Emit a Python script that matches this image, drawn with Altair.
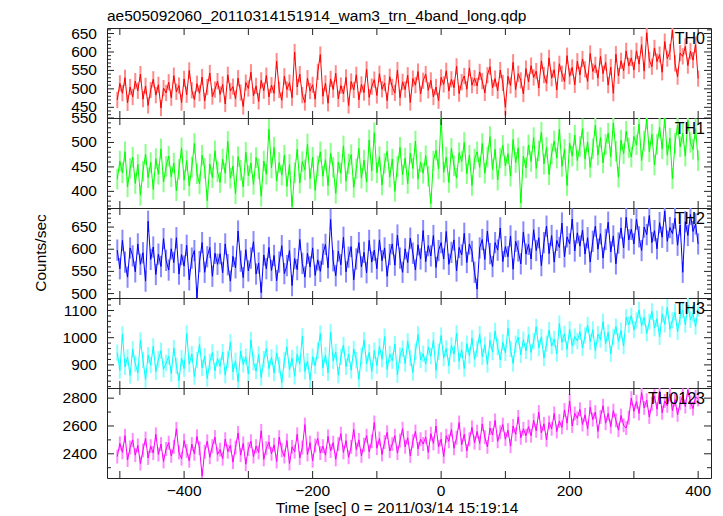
import altair as alt
import pandas as pd

# time grid (sec from 2011/03/14 15:19:14)
times = list(range(-504, 401, 4))

th0 = [470, 515, 488, 530, 462, 505, 478, 521, 495, 540, 472, 508, 455, 497, 526, 483, 511, 448, 502, 489,
       518, 476, 536, 492, 509, 463, 527, 484, 550, 496, 471, 514, 488, 532, 467, 505, 543, 479, 498, 521,
       485, 512, 459, 538, 494, 506, 473, 529, 490, 452, 517, 501, 545, 481, 508, 466, 523, 495, 536, 478,
       510, 488, 575, 497, 469, 534, 498, 517, 476, 600, 505, 540, 483, 463, 529, 494, 511, 472, 546, 593,
       480, 515, 461, 527, 498, 542, 473, 509, 486, 531, 455, 520, 497, 538, 470, 512, 490, 553, 477, 506,
       525, 482, 541, 499, 516, 468, 533, 505, 489, 551, 476, 519, 498, 537, 463, 528, 510, 547, 486, 522,
       540, 496, 523, 478, 505, 468, 531, 512, 549, 494, 526, 503, 561, 487, 518, 535, 499, 557, 510, 529,
       508, 546, 521, 489, 537, 560, 503, 528, 495, 551, 516, 450, 534, 509, 572, 498, 541, 523, 486, 555,
       519, 563, 531, 548, 502, 576, 537, 515, 584, 529, 552, 497, 568, 541, 520, 590, 534, 558, 511, 575,
       538, 581, 553, 520, 596, 547, 565, 529, 588, 541, 572, 510, 559, 488, 594, 535, 576, 549, 603, 562,
       584, 551, 603, 567, 620, 548, 652, 578, 560, 611, 574, 593, 545, 628, 582, 600, 659, 569, 533, 597,
       588, 615, 563, 602, 578, 620, 528]

th1 = [425, 462, 438, 481, 409, 447, 470, 416, 455, 392, 441, 476, 428, 459, 404, 467, 435, 487, 419, 451,
       472, 430, 458, 401, 445, 489, 423, 463, 411, 450, 498, 436, 415, 474, 447, 381, 456, 428, 483, 440,
       418, 466, 437, 502, 427, 452, 395, 471, 443, 409, 480, 432, 458, 414, 469, 446, 390, 462, 435, 527,
       448, 490, 421, 459, 433, 474, 410, 455, 369, 438, 486, 417, 461, 444, 497, 426, 470, 402, 452, 481,
       431, 465, 412, 478, 449, 396, 460, 437, 493, 421, 456, 475, 408, 446, 488, 427, 464, 419, 505, 442,
       520, 438, 471, 413, 457, 482, 429, 466, 400, 451, 490, 434, 468, 416, 478, 447, 503, 425, 460, 437,
       473, 431, 375, 462, 484, 446, 550, 439, 470, 418, 488, 452, 427, 479, 461, 500, 436, 474, 412, 466,
       481, 449, 498, 437, 470, 512, 445, 486, 423, 468, 494, 452, 477, 431, 506, 459, 489, 376, 472, 448,
       495, 461, 510, 447, 483, 521, 456, 490, 434, 477, 503, 468, 527, 451, 486, 412, 499, 472, 515, 463,
       492, 528, 466, 501, 449, 487, 535, 474, 510, 458, 496, 519, 471, 540, 482, 429, 505, 477, 523, 489,
       470, 512, 495, 538, 463, 503, 548, 481, 517, 454, 496, 531, 487, 550, 474, 509, 426, 498, 536, 491,
       519, 472, 545, 500, 486, 528, 463]

th2 = [598, 556, 620, 571, 537, 603, 585, 549, 612, 566, 592, 528, 663, 577, 605, 543, 589, 561, 624, 575,
       553, 601, 570, 626, 544, 588, 562, 609, 531, 580, 597, 490, 572, 615, 548, 583, 604, 539, 591, 566,
       590, 547, 612, 565, 528, 584, 558, 641, 573, 536, 599, 551, 580, 617, 544, 569, 502, 587, 556, 604,
       552, 586, 529, 571, 608, 545, 563, 597, 518, 579, 554, 622, 568, 537, 591, 560, 603, 541, 576, 550,
       589, 611, 558, 667, 574, 540, 596, 565, 627, 549, 582, 606, 531, 578, 615, 560, 593, 547, 620, 571,
       598, 556, 621, 574, 603, 539, 588, 612, 564, 632, 580, 548, 601, 570, 625, 591, 553, 610, 578, 642,
       572, 608, 585, 631, 559, 597, 615, 578, 640, 566, 593, 621, 551, 604, 587, 636, 570, 612, 595, 548,
       510, 603, 622, 577, 641, 590, 561, 615, 598, 648, 572, 606, 583, 630, 555, 618, 596, 567, 639, 589,
       611, 578, 644, 597, 626, 563, 615, 652, 590, 631, 571, 620, 604, 659, 583, 628, 612, 668, 596, 637,
       607, 643, 589, 626, 571, 618, 652, 600, 635, 580, 622, 661, 594, 630, 567, 614, 648, 603, 672, 621,
       645, 612, 668, 628, 597, 650, 633, 676, 615, 642, 601, 660, 627, 686, 618, 649, 635, 670, 609, 655,
       548, 662, 631, 679, 640, 657, 612]

th3 = [945, 880, 1012, 893, 928, 861, 957, 904, 871, 990, 918, 846, 936, 899, 968, 875, 921, 952, 884, 907,
       931, 868, 962, 897, 842, 925, 886, 1015, 903, 940, 857, 918, 975, 889, 932, 850, 911, 946, 878, 923,
       895, 947, 862, 920, 983, 874, 915, 838, 951, 902, 930, 866, 992, 909, 877, 938, 853, 921, 960, 886,
       928, 870, 944, 899, 835, 917, 966, 882, 925, 858, 940, 903, 1005, 876, 914, 845, 930, 897, 953, 1015,
       889, 936, 871, 1020, 915, 948, 862, 929, 973, 893, 940, 880, 958, 917, 847, 932, 991, 905, 946, 876,
       952, 897, 968, 921, 1004, 883, 940, 915, 977, 864, 934, 960, 905, 987, 926, 872, 949, 1012, 918, 941,
       903, 965, 932, 991, 880, 948, 1008, 925, 961, 897, 972, 940, 1016, 913, 955, 886, 978, 934, 999, 921,
       958, 1013, 930, 974, 902, 990, 947, 1025, 965, 918, 983, 944, 1036, 959, 905, 978, 1002, 937, 993, 951,
       1011, 946, 987, 1040, 962, 1003, 925, 978, 1028, 969, 995, 941, 1052, 983, 1015, 957, 1031, 970, 1004, 988,
       1022, 962, 1008, 1047, 985, 1030, 952, 1013, 993, 1059, 978, 1019, 941, 1003, 1041, 986, 1026, 969, 1075, 1048,
       1081, 1029, 1063, 1102, 1044, 1075, 1016, 1058, 1097, 1035, 1070, 1003, 1086, 1049, 1112, 1031, 1064, 1093, 1022, 1077,
       1101, 1048, 1120, 1066, 1089, 1041, 1108]

th0123 = [2380, 2475, 2410, 2530, 2355, 2445, 2500, 2390, 2460, 2330, 2425, 2510, 2370, 2455, 2405, 2540, 2395, 2470, 2345, 2435,
          2480, 2385, 2450, 2580, 2410, 2365, 2495, 2420, 2350, 2470, 2400, 2525, 2440, 2240, 2415, 2490, 2375, 2455, 2520, 2395,
          2430, 2365, 2505, 2415, 2460, 2340, 2445, 2550, 2390, 2475, 2325, 2435, 2490, 2380, 2455, 2410, 2565, 2360, 2440, 2485,
          2400, 2465, 2345, 2520, 2425, 2380, 2495, 2330, 2450, 2415, 2540, 2370, 2445, 2610, 2395, 2480, 2350, 2460, 2510, 2405,
          2455, 2390, 2525, 2420, 2480, 2360, 2470, 2545, 2410, 2495, 2375, 2450, 2575, 2430, 2500, 2385, 2465, 2530, 2415, 2490,
          2625, 2440, 2510, 2395, 2485, 2555, 2420, 2470, 2530, 2405, 2495, 2580, 2450, 2515, 2385, 2490, 2560, 2435, 2505, 2470,
          2520, 2410, 2545, 2475, 2600, 2450, 2505, 2380, 2530, 2490, 2575, 2440, 2515, 2625, 2465, 2540, 2420, 2505, 2590, 2480,
          2560, 2475, 2615, 2520, 2450, 2585, 2535, 2640, 2490, 2555, 2610, 2505, 2570, 2455, 2600, 2540, 2665, 2515, 2580, 2530,
          2595, 2530, 2640, 2565, 2700, 2550, 2615, 2500, 2625, 2580, 2690, 2560, 2635, 2590, 2715, 2620, 2780, 2600, 2690, 2655,
          2720, 2610, 2680, 2580, 2735, 2645, 2700, 2560, 2665, 2745, 2620, 2690, 2595, 2710, 2640, 2570, 2675, 2605, 2585, 2660,
          2800, 2705, 2775, 2690, 2840, 2730, 2785, 2665, 2760, 2815, 2720, 2850, 2695, 2780, 2745, 2830, 2710, 2790, 2680, 2765,
          2820, 2740, 2860, 2770, 2725, 2810, 2790]

names = ["TH0", "TH1", "TH2", "TH3", "TH0123"]
values = [th0, th1, th2, th3, th0123]
errors = [22, 21, 24, 30, 50]
colors = ["#ff0000", "#00ff00", "#0000ff", "#00ffff", "#ff00ff"]
light = ["#ff8a8a", "#8aff8a", "#8a8aff", "#8affff", "#ff8aff"]
domains = [[421, 665], [366, 550], [490, 693], [815, 1146], [2226, 2873]]
y_major = [[450, 500, 550, 600, 650], [400, 450, 500, 550], [500, 550, 600, 650],
           [900, 1000, 1100], [2400, 2600, 2800]]
y_minor_step = [10, 10, 10, 20, 100]
x_labels = [-400, -200, 0, 200, 400]
x_ticks = list(range(-500, 401, 100))
x_domain = [-520, 420]

title_text = "ae505092060_20110314151914_wam3_trn_4band_long.qdp"
ylabel = "Counts/sec"
xlabel = "Time [sec] 0 = 2011/03/14 15:19:14"

W, H = 604, 90
FONT = "Liberation Sans"
FS = 15.5
FRAME = "#222222"

xscale = alt.Scale(domain=x_domain, nice=False, zero=False)


def text_layer(df, **kw):
    enc = kw.pop("enc")
    return alt.Chart(df).mark_text(font=FONT, fontSize=FS, color="black", **kw).encode(**enc)


def panel(i):
    vals = values[i]
    err = errors[i]
    df = pd.DataFrame({"t": times, "v": vals,
                       "lo": [v - err for v in vals], "hi": [v + err for v in vals]})
    lo, hi = domains[i]
    yscale = alt.Scale(domain=domains[i], nice=False, zero=False)
    step = y_minor_step[i]
    start = (lo // step + 1) * step
    minors = [v for v in range(start, hi + 1, step) if v not in y_major[i]]

    X = lambda f: alt.X(f, scale=xscale, axis=None)
    Y = lambda f: alt.Y(f, scale=yscale, axis=None)

    layers = [
        alt.Chart(df).mark_rule(color=light[i], strokeWidth=2, clip=True).encode(
            x=X("t:Q"), y=Y("lo:Q"), y2="hi:Q"),
        alt.Chart(df).mark_line(color=colors[i], strokeWidth=1, clip=True).encode(
            x=X("t:Q"), y=Y("v:Q")),
    ]
    maj = pd.DataFrame({"y": y_major[i]})
    mnr = pd.DataFrame({"y": minors})
    xt = pd.DataFrame({"t": x_ticks})
    for d, ln in ((maj, 7), (mnr, 4)):
        layers.append(alt.Chart(d).mark_rule(color=FRAME, strokeWidth=1).encode(
            y=Y("y:Q"), x=alt.value(0), x2=alt.value(ln)))
        layers.append(alt.Chart(d).mark_rule(color=FRAME, strokeWidth=1).encode(
            y=Y("y:Q"), x=alt.value(W - ln), x2=alt.value(W)))
    layers.append(alt.Chart(xt).mark_rule(color=FRAME, strokeWidth=1).encode(
        x=X("t:Q"), y=alt.value(0), y2=alt.value(7)))
    layers.append(alt.Chart(xt).mark_rule(color=FRAME, strokeWidth=1).encode(
        x=X("t:Q"), y=alt.value(H - 7), y2=alt.value(H)))
    # y tick labels
    layers.append(text_layer(maj, align="right", baseline="middle",
                             enc=dict(y=Y("y:Q"), x=alt.value(-10),
                                      text=alt.Text("y:Q", format="d"))))
    # panel name
    lab = pd.DataFrame({"name": [names[i]]})
    layers.append(alt.Chart(lab).mark_text(align="right", baseline="alphabetic", font=FONT,
                                           fontSize=16, color="black").encode(
        x=alt.value(W - 6), y=alt.value(16), text="name:N"))
    if i == 2:
        yl = pd.DataFrame({"label": [ylabel]})
        layers.append(text_layer(yl, align="center", baseline="middle", angle=270,
                                 enc=dict(x=alt.value(-66), y=alt.value(H / 2), text="label:N")))
    if i == len(names) - 1:
        xl = pd.DataFrame({"t": x_labels})
        layers.append(text_layer(xl, align="center", baseline="alphabetic",
                                 enc=dict(x=X("t:Q"), y=alt.value(H + 17.5),
                                          text=alt.Text("t:Q", format="d"))))
        xtl = pd.DataFrame({"label": [xlabel]})
        layers.append(text_layer(xtl, align="center", baseline="alphabetic",
                                 enc=dict(x=alt.value(290), y=alt.value(H + 34.5), text="label:N")))
    ch = alt.layer(*layers).properties(width=W, height=H)
    if i == 0:
        ch = ch.properties(title=alt.TitleParams(title_text, anchor="start", frame="group",
                                                 font=FONT, fontSize=FS, fontWeight="normal",
                                                 color="black", offset=2))
    return ch


chart = alt.vconcat(*[panel(i) for i in range(len(names))], spacing=0, bounds="flush").properties(
    padding={"left": 25, "top": 0, "right": 2, "bottom": 0}
).configure_view(stroke=FRAME, strokeWidth=1)

chart.save("out.html", embed_options={"renderer": "svg", "actions": False})
